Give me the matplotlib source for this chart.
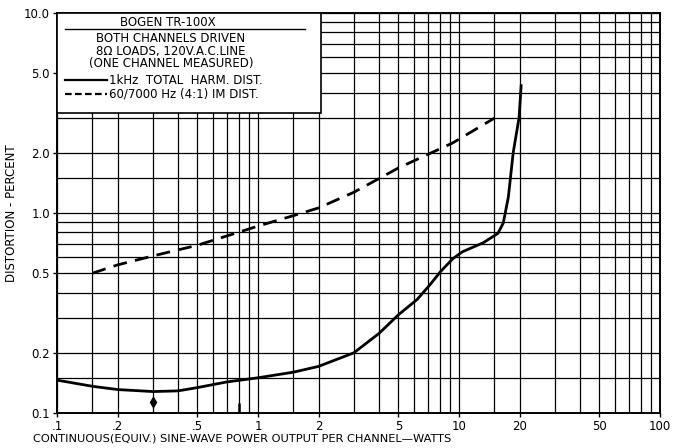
import matplotlib
matplotlib.use("Agg")
import matplotlib.pyplot as plt
from matplotlib.patches import Rectangle

# 1 kHz THD (solid)
thd_w = [0.1, 0.15, 0.2, 0.3, 0.4, 0.5, 0.7, 1.0, 1.5, 2.0, 3.0, 4.0, 5.0,
         6.2, 7.2, 8.1, 9.3, 10.4, 13.2, 15.6, 16.6, 17.6, 18.6, 19.9, 20.4]
thd_pct = [0.146, 0.136, 0.131, 0.128, 0.129, 0.134, 0.143, 0.150, 0.160,
           0.171, 0.200, 0.25, 0.31, 0.37, 0.44, 0.51, 0.59, 0.64, 0.71,
           0.79, 0.89, 1.2, 2.0, 3.0, 4.4]

# 60/7000 Hz IM distortion (dashed)
im_w = [0.15, 0.2, 0.3, 0.5, 1.0, 1.5, 2.0, 3.0, 5.0, 9.3, 15.0]
im_pct = [0.50, 0.55, 0.61, 0.69, 0.86, 0.97, 1.06, 1.27, 1.68, 2.24, 2.98]

# small marks on the original sheet
mark_w = [0.3]
mark_pct = [0.113]
tick_mark_w = [0.8]
tick_mark_pct = [0.106]

grid_vals = [m * 10.0 ** e for e in (-1, 0, 1)
             for m in (1, 1.5, 2, 3, 4, 5, 6, 7, 8, 9)] + [100.0]
xticks = [0.1, 0.2, 0.5, 1, 2, 5, 10, 20, 50, 100]
xlabels = [".1", ".2", ".5", "1", "2", "5", "10", "20", "50", "100"]
yticks = [0.1, 0.2, 0.5, 1.0, 2.0, 5.0, 10.0]
ylabels = ["0.1", "0.2", "0.5", "1.0", "2.0", "5.0", "10.0"]

box_lines = ["BOTH CHANNELS DRIVEN", "8\u03a9 LOADS, 120V.A.C.LINE",
             "(ONE CHANNEL MEASURED)"]

fig = plt.figure(figsize=(6.88, 4.48), dpi=100)
ax = fig.add_axes([57 / 688, 35 / 448, 603 / 688, 400 / 448])
ax.set_xscale("log")
ax.set_yscale("log")
ax.set_xlim(0.1, 100)
ax.set_ylim(0.1, 10)

for v in grid_vals:
    ax.axvline(v, color="black", lw=0.9, zorder=1)
    ax.axhline(v, color="black", lw=0.9, zorder=1)

ax.set_xticks(xticks)
ax.set_xticklabels(xlabels)
ax.set_yticks(yticks)
ax.set_yticklabels(ylabels)
ax.minorticks_off()
ax.tick_params(direction="out", length=3, width=1, labelsize=8.5, pad=2)
for s in ax.spines.values():
    s.set_linewidth(1.4)

ax.plot(thd_w, thd_pct, color="black", lw=2.0, zorder=4,
        solid_capstyle="butt")
ax.plot(im_w, im_pct, color="black", lw=2.0, ls=(0, (5, 3)), zorder=4)
ax.plot(mark_w, mark_pct, "d", color="black", ms=5, zorder=4)
ax.plot(tick_mark_w, tick_mark_pct, "|", color="black", ms=7, mew=1.8,
        zorder=4)

# legend/title box in the upper-left corner
ax.add_patch(Rectangle((0, 0.75), 264 / 603, 0.25, transform=ax.transAxes,
                       facecolor="white", edgecolor="black", lw=1.2,
                       zorder=3))
tr = ax.transAxes
ax.plot([8 / 603, 248 / 603], [1 - 16 / 400, 1 - 16 / 400], color="black",
        lw=1.0, transform=tr, zorder=5)
ax.text(111 / 603, 1 - 10 / 400, "BOGEN TR-100X", transform=tr, fontsize=8.5,
        ha="center", va="center", zorder=5)
for i, t in enumerate(box_lines):
    ax.text(114 / 603, 1 - (26 + 12 * i) / 400, t, transform=tr,
            fontsize=8.5, ha="center", va="center", zorder=5)
ax.plot([8 / 603, 50 / 603], [1 - 67 / 400] * 2, color="black", lw=1.6,
        transform=tr, zorder=5)
ax.plot([8 / 603, 50 / 603], [1 - 81 / 400] * 2, color="black", lw=1.6,
        ls=(0, (3, 1.5)), transform=tr, zorder=5)
ax.text(52 / 603, 1 - 67 / 400, "1kHz  TOTAL  HARM. DIST.", transform=tr,
        fontsize=8.5, ha="left", va="center", zorder=5)
ax.text(52 / 603, 1 - 81 / 400, "60/7000 Hz (4:1) IM DIST.", transform=tr,
        fontsize=8.5, ha="left", va="center", zorder=5)

ax.set_xlabel("CONTINUOUS(EQUIV.) SINE-WAVE POWER OUTPUT PER CHANNEL\u2014WATTS",
              fontsize=8.2)
ax.xaxis.set_label_coords(0.307, -0.052)
ax.set_ylabel("DISTORTION - PERCENT", fontsize=8.5, labelpad=4)

fig.savefig("out.png", dpi=100)
